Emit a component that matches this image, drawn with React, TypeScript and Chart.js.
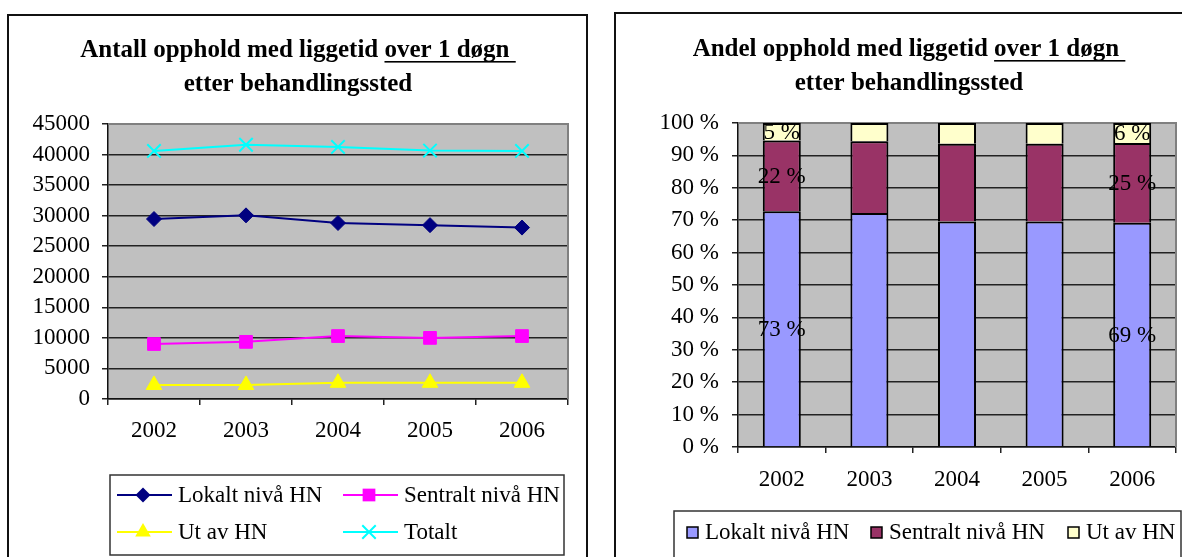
import React, { useEffect, useRef } from 'react';
import { Chart, registerables } from 'chart.js';

Chart.register(...registerables);

// ---- data ----
const years = ['2002', '2003', '2004', '2005', '2006'];

const lokaltCount = [29450, 30050, 28800, 28450, 28050];
const sentraltCount = [9000, 9350, 10300, 10000, 10300];
const utCount = [2300, 2300, 2650, 2650, 2650];
const totaltCount = [40600, 41600, 41250, 40650, 40600];

const lokaltShare = [72.8, 72.2, 69.6, 69.6, 69.2];
const sentraltShare = [21.8, 22.2, 24.0, 24.0, 24.6];
const utShare = [5.4, 5.6, 6.4, 6.4, 6.2];
const labelledYears = [0, 4];

const seriesNames = ['Lokalt nivå HN', 'Sentralt nivå HN', 'Ut av HN', 'Totalt'];

const countAxis = { min: 0, max: 45000, step: 5000 };
const shareAxis = { min: 0, max: 100, step: 10 };

const leftTitle = ['Antall opphold med liggetid ', 'over 1 døgn ', 'etter behandlingssted'];
const rightTitle = ['Andel opphold med liggetid ', 'over 1 døgn ', 'etter behandlingssted'];

// ---- styles ----
const SERIF = '"Liberation Serif", "Times New Roman", serif';
const FONT_SIZE = 23;
const lineColors = ['#000080', '#FF00FF', '#FFFF00', '#00FFFF'];
const lineMarkers = ['rectRot', 'rect', 'triangle', 'crossRot'];
const markerRadius = [7.5, 9, 9, 9.5];
const barColors = ['#9999FF', '#993366', '#FFFFCC'];
const barLegendStarts = [71, 255, 452];

function drawMarker(ctx: CanvasRenderingContext2D, style: string, x: number, y: number, r: number, color: string) {
  ctx.save();
  ctx.fillStyle = color;
  ctx.strokeStyle = color;
  ctx.lineWidth = 2;
  ctx.beginPath();
  if (style === 'rectRot') {
    ctx.moveTo(x, y - r);
    ctx.lineTo(x + r, y);
    ctx.lineTo(x, y + r);
    ctx.lineTo(x - r, y);
    ctx.closePath();
    ctx.fill();
  } else if (style === 'rect') {
    const s = r * Math.SQRT1_2;
    ctx.rect(x - s, y - s, 2 * s, 2 * s);
    ctx.fill();
  } else if (style === 'triangle') {
    ctx.moveTo(x, y - r);
    ctx.lineTo(x + r * Math.sin(Math.PI / 3), y + r / 2);
    ctx.lineTo(x - r * Math.sin(Math.PI / 3), y + r / 2);
    ctx.closePath();
    ctx.fill();
  } else {
    const s = r * Math.SQRT1_2;
    ctx.moveTo(x - s, y - s);
    ctx.lineTo(x + s, y + s);
    ctx.moveTo(x + s, y - s);
    ctx.lineTo(x - s, y + s);
    ctx.stroke();
  }
  ctx.restore();
}

function titlePlugin(parts: string[], cx: number, y1: number, y2: number) {
  return {
    id: 'customTitle',
    afterDraw(chart: any) {
      const ctx = chart.ctx as CanvasRenderingContext2D;
      ctx.save();
      ctx.font = `bold 25px ${SERIF}`;
      ctx.fillStyle = '#000';
      ctx.textBaseline = 'middle';
      ctx.textAlign = 'left';
      const w1 = ctx.measureText(parts[0]).width;
      const w2 = ctx.measureText(parts[1]).width;
      const x0 = cx - (w1 + w2) / 2;
      ctx.fillText(parts[0], x0, y1);
      ctx.fillText(parts[1], x0 + w1, y1);
      ctx.fillRect(x0 + w1, y1 + 10, w2, 1.6);
      ctx.textAlign = 'center';
      ctx.fillText(parts[2], cx, y2);
      ctx.restore();
    },
  };
}

const plotBgPlugin = {
  id: 'plotBg',
  beforeDraw(chart: any) {
    const { ctx, chartArea } = chart;
    ctx.save();
    ctx.fillStyle = '#C0C0C0';
    ctx.fillRect(chartArea.left, chartArea.top, chartArea.right - chartArea.left, chartArea.bottom - chartArea.top);
    ctx.restore();
  },
  beforeDatasetsDraw(chart: any) {
    const { ctx, chartArea } = chart;
    ctx.save();
    ctx.strokeStyle = '#808080';
    ctx.lineWidth = 2;
    ctx.beginPath();
    ctx.moveTo(chartArea.left, chartArea.top);
    ctx.lineTo(chartArea.right, chartArea.top);
    ctx.lineTo(chartArea.right, chartArea.bottom);
    ctx.stroke();
    ctx.restore();
  },
};

const lineLegendPlugin = {
  id: 'lineLegend',
  afterDraw(chart: any) {
    const ctx = chart.ctx as CanvasRenderingContext2D;
    ctx.save();
    ctx.strokeStyle = '#333';
    ctx.lineWidth = 1.5;
    ctx.strokeRect(101, 459, 454, 80);
    const cols = [108, 334];
    const rows = [479, 516];
    ctx.font = `${FONT_SIZE}px ${SERIF}`;
    ctx.textBaseline = 'middle';
    ctx.textAlign = 'left';
    seriesNames.forEach((name, i) => {
      const x = cols[i % 2];
      const y = rows[Math.floor(i / 2)];
      ctx.strokeStyle = lineColors[i];
      ctx.lineWidth = 2;
      ctx.beginPath();
      ctx.moveTo(x, y);
      ctx.lineTo(x + 55, y);
      ctx.stroke();
      drawMarker(ctx, lineMarkers[i], x + 26, y, markerRadius[i], lineColors[i]);
      ctx.fillStyle = '#000';
      ctx.fillText(name, x + 61, y + 1);
    });
    ctx.restore();
  },
};

const barLegendPlugin = {
  id: 'barLegend',
  afterDraw(chart: any) {
    const ctx = chart.ctx as CanvasRenderingContext2D;
    ctx.save();
    ctx.strokeStyle = '#333';
    ctx.lineWidth = 1.5;
    ctx.strokeRect(58, 497, 507, 100);
    ctx.font = `${FONT_SIZE}px ${SERIF}`;
    ctx.textBaseline = 'middle';
    ctx.textAlign = 'left';
    const y = 518;
    seriesNames.slice(0, 3).forEach((name, i) => {
      const x = barLegendStarts[i];
      ctx.fillStyle = barColors[i];
      ctx.fillRect(x, y - 5, 11, 11);
      ctx.strokeStyle = '#000';
      ctx.lineWidth = 1.5;
      ctx.strokeRect(x, y - 5, 11, 11);
      ctx.fillStyle = '#000';
      ctx.fillText(name, x + 18, y + 1);
    });
    ctx.restore();
  },
};

const barLabelPlugin = {
  id: 'barLabels',
  afterDatasetsDraw(chart: any) {
    const ctx = chart.ctx as CanvasRenderingContext2D;
    ctx.save();
    ctx.font = `${FONT_SIZE}px ${SERIF}`;
    ctx.fillStyle = '#000';
    ctx.textAlign = 'center';
    ctx.textBaseline = 'middle';
    chart.data.datasets.forEach((ds: any, di: number) => {
      const meta = chart.getDatasetMeta(di);
      labelledYears.forEach((i) => {
        const el = meta.data[i];
        if (!el) return;
        const p = el.getProps(['x', 'y', 'base'], true);
        ctx.fillText(Math.round(ds.data[i]) + ' %', p.x, (p.y + p.base) / 2 + 1);
      });
    });
    ctx.restore();
  },
};

const tickFont = { family: SERIF, size: FONT_SIZE };

export default function App() {
  const leftRef = useRef<HTMLCanvasElement>(null);
  const rightRef = useRef<HTMLCanvasElement>(null);

  useEffect(() => {
    const countSeries = [lokaltCount, sentraltCount, utCount, totaltCount];
    const left = new Chart(leftRef.current as HTMLCanvasElement, {
      type: 'line',
      data: {
        labels: years,
        datasets: countSeries.map((d, i) => ({
          label: seriesNames[i],
          data: d,
          borderColor: lineColors[i],
          backgroundColor: lineColors[i],
          pointStyle: lineMarkers[i] as any,
          pointRadius: markerRadius[i],
          pointBorderWidth: i === 3 ? 2 : 1,
          pointBackgroundColor: lineColors[i],
          pointBorderColor: lineColors[i],
          borderWidth: 2,
          tension: 0,
          fill: false,
        })),
      },
      options: {
        responsive: false,
        animation: false,
        devicePixelRatio: 1,
        events: [],
        layout: { padding: { top: 108, left: 0, right: 18, bottom: 133 } },
        plugins: { legend: { display: false }, title: { display: false }, tooltip: { enabled: false } },
        scales: {
          x: {
            offset: true,
            grid: { offset: true, drawOnChartArea: false, drawTicks: true, tickLength: 6, color: '#222', lineWidth: 1.5 },
            border: { color: '#111', width: 1.5 },
            ticks: { font: tickFont, color: '#000', padding: 12, maxRotation: 0, autoSkip: false },
            afterFit: (s: any) => { s.height = 40; },
          },
          y: {
            min: countAxis.min,
            max: countAxis.max,
            ticks: { stepSize: countAxis.step, autoSkip: false, font: tickFont, color: '#000', padding: 12, callback: (v: any) => String(v) },
            grid: { color: '#222', lineWidth: 1.5, tickLength: 6 },
            border: { color: '#111', width: 1.5 },
            afterFit: (s: any) => { s.width = 99; },
          },
        },
      } as any,
      plugins: [plotBgPlugin, titlePlugin(leftTitle, 289, 35, 69), lineLegendPlugin],
    });

    const shareSeries = [lokaltShare, sentraltShare, utShare];
    const right = new Chart(rightRef.current as HTMLCanvasElement, {
      type: 'bar',
      data: {
        labels: years,
        datasets: shareSeries.map((d, i) => ({
          label: seriesNames[i],
          data: d,
          backgroundColor: barColors[i],
          borderColor: '#000',
          borderWidth: 2,
          barPercentage: 0.434,
          categoryPercentage: 1,
        })),
      },
      options: {
        responsive: false,
        animation: false,
        devicePixelRatio: 1,
        events: [],
        layout: { padding: { top: 109, left: 0, right: 26, bottom: 83 } },
        plugins: { legend: { display: false }, title: { display: false }, tooltip: { enabled: false } },
        scales: {
          x: {
            stacked: true,
            grid: { offset: true, drawOnChartArea: false, drawTicks: true, tickLength: 6, color: '#222', lineWidth: 1.5 },
            border: { color: '#111', width: 1.5 },
            ticks: { font: tickFont, color: '#000', padding: 13, maxRotation: 0, autoSkip: false },
            afterFit: (s: any) => { s.height = 40; },
          },
          y: {
            stacked: true,
            min: shareAxis.min,
            max: shareAxis.max,
            ticks: { stepSize: shareAxis.step, autoSkip: false, font: tickFont, color: '#000', padding: 13, callback: (v: any) => v + ' %' },
            grid: { color: '#222', lineWidth: 1.5, tickLength: 6 },
            border: { color: '#111', width: 1.5 },
            afterFit: (s: any) => { s.width = 122; },
          },
        },
      } as any,
      plugins: [plotBgPlugin, titlePlugin(rightTitle, 293, 36, 70), barLabelPlugin, barLegendPlugin],
    });

    return () => {
      left.destroy();
      right.destroy();
    };
  }, []);

  return (
    <div style={{ position: 'fixed', left: 0, top: 0, width: 1182, height: 557, overflow: 'hidden', background: '#fff' }}>
      <div style={{ position: 'absolute', left: 7, top: 14, width: 581, height: 560, border: '2px solid #111', boxSizing: 'border-box' }}>
        <canvas ref={leftRef} width={577} height={556} style={{ display: 'block' }} />
      </div>
      <div style={{ position: 'absolute', left: 614, top: 12, width: 590, height: 560, border: '2px solid #111', boxSizing: 'border-box' }}>
        <canvas ref={rightRef} width={586} height={556} style={{ display: 'block' }} />
      </div>
    </div>
  );
}
